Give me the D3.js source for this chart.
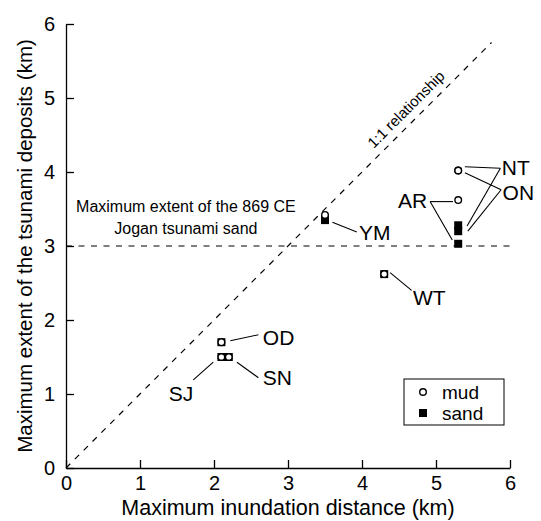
<!DOCTYPE html>
<html>
<head>
<meta charset="utf-8">
<script src="https://cdn.jsdelivr.net/npm/d3@7"></script>
<style>
  body { margin: 0; background: #fff; }
  svg { font-family: Arial, 'Liberation Sans', sans-serif; }
</style>
</head>
<body>
<svg id="chart" width="541" height="521"></svg>
<script>
// site data (km)
const sites = ['YM', 'WT', 'OD', 'SJ', 'SN', 'NT', 'ON', 'AR'];
const inundation = [3.5, 4.3, 2.1, 2.1, 2.2, 5.3, 5.3, 5.3];
const mudExtent = [3.42, 2.62, 1.7, 1.5, 1.5, 4.02, 4.02, 3.62];
const sandExtent = [3.35, 2.62, 1.7, 1.5, 1.5, 3.28, 3.2, 3.03];

const xTicks = [0, 1, 2, 3, 4, 5, 6];
const yTicks = [0, 1, 2, 3, 4, 5, 6];
const jogan = 3;
const oneToOneEnd = 5.75;

// label placement, data coords: [name, x, y, anchor, leader segments]
const labels = [
    ['YM', 3.96, 3.19, 'start', [[3.93, 3.19, 3.6, 3.32]]],
    ['WT', 4.69, 2.31, 'start', [[4.67, 2.4, 4.38, 2.64]]],
    ['OD', 2.66, 1.77, 'start', [[2.6, 1.8, 2.22, 1.72]]],
    ['SN', 2.66, 1.22, 'start', [[2.6, 1.22, 2.31, 1.43]]],
    ['SJ', 1.72, 1.01, 'end', [[1.72, 1.19, 1.99, 1.43]]],
    ['NT', 5.89, 4.06, 'start', [[5.87, 4.05, 5.39, 4.07], [5.87, 4.05, 5.42, 3.27]]],
    ['ON', 5.9, 3.72, 'start', [[5.88, 3.76, 5.39, 3.99], [5.88, 3.76, 5.43, 3.2]]],
    ['AR', 4.88, 3.61, 'end', [[4.92, 3.6, 5.23, 3.6], [4.92, 3.6, 5.22, 3.08]]],
];

const svg = d3.select('#chart');
const margin = { left: 66, right: 31, top: 24, bottom: 53 };
const width = 541 - margin.left - margin.right;
const height = 521 - margin.top - margin.bottom;

const x = d3.scaleLinear().domain([0, 6]).range([margin.left, margin.left + width]);
const y = d3.scaleLinear().domain([0, 6]).range([margin.top + height, margin.top]);

// axes, ticks pointing inward
const xAxis = svg.append('g')
    .attr('transform', `translate(0,${y(0)})`)
    .call(d3.axisBottom(x).tickValues(xTicks).tickFormat(d3.format('d'))
        .tickSizeInner(-8).tickSizeOuter(0).tickPadding(6));
const yAxis = svg.append('g')
    .attr('transform', `translate(${x(0)},0)`)
    .call(d3.axisLeft(y).tickValues(yTicks).tickFormat(d3.format('d'))
        .tickSizeInner(-8).tickSizeOuter(0).tickPadding(11));

[xAxis, yAxis].forEach((g) => {
    g.select('.domain').attr('stroke', '#000').attr('stroke-width', 1.3);
    g.selectAll('.tick line').attr('stroke', '#000').attr('stroke-width', 1.3);
    g.selectAll('.tick text').attr('fill', '#000').style('font-size', '20px')
        .style('font-family', "Arial, 'Liberation Sans', sans-serif");
});
xAxis.selectAll('.tick text').attr('dy', '0.8em');

svg.append('text')
    .attr('x', x(3))
    .attr('y', 515)
    .attr('text-anchor', 'middle')
    .style('font-size', '21.5px')
    .text('Maximum inundation distance (km)');

svg.append('text')
    .attr('transform', `translate(32,${y(3)}) rotate(-90)`)
    .attr('text-anchor', 'middle')
    .style('font-size', '20.5px')
    .text('Maximum extent of the tsunami deposits (km)');

// reference lines
svg.append('line')
    .attr('x1', x(0)).attr('y1', y(0))
    .attr('x2', x(oneToOneEnd)).attr('y2', y(oneToOneEnd))
    .attr('stroke', '#000').attr('stroke-width', 1.2)
    .attr('stroke-dasharray', '6,6.5');

svg.append('line')
    .attr('x1', x(0)).attr('y1', y(jogan))
    .attr('x2', x(6)).attr('y2', y(jogan))
    .attr('stroke', '#000').attr('stroke-width', 1.2)
    .attr('stroke-dasharray', '6,6.5');

svg.append('text')
    .attr('transform', `translate(${x(4.72)},${y(4.72)}) rotate(-45)`)
    .attr('y', -8)
    .attr('text-anchor', 'middle')
    .style('font-size', '15px')
    .text('1:1 relationship');

const jog = svg.append('g').style('font-size', '16px').attr('text-anchor', 'middle');
jog.append('text').attr('x', x(1.62)).attr('y', y(3.46)).text('Maximum extent of the 869 CE');
jog.append('text').attr('x', x(1.62)).attr('y', y(3.16)).text('Jogan tsunami sand');

// leader lines and site labels
const ann = svg.append('g');
labels.forEach(([name, lx, ly, anchor, segs]) => {
    segs.forEach(([x1, y1, x2, y2]) => {
        ann.append('line')
            .attr('x1', x(x1)).attr('y1', y(y1))
            .attr('x2', x(x2)).attr('y2', y(y2))
            .attr('stroke', '#000').attr('stroke-width', 1.1);
    });
    ann.append('text')
        .attr('x', x(lx)).attr('y', y(ly))
        .attr('dy', '0.36em')
        .attr('text-anchor', anchor)
        .style('font-size', '21px')
        .text(name);
});

// markers: sand squares under mud circles
const sq = 8;
svg.append('g')
    .selectAll('rect')
    .data(sites)
    .join('rect')
    .attr('x', (d, i) => x(inundation[i]) - sq / 2)
    .attr('y', (d, i) => y(sandExtent[i]) - sq / 2)
    .attr('width', sq)
    .attr('height', sq)
    .attr('fill', '#000');

svg.append('g')
    .selectAll('circle')
    .data(sites)
    .join('circle')
    .attr('cx', (d, i) => x(inundation[i]))
    .attr('cy', (d, i) => y(mudExtent[i]))
    .attr('r', 3.3)
    .attr('fill', '#fff')
    .attr('stroke', '#000')
    .attr('stroke-width', 1.4);

// legend
const legend = svg.append('g').attr('transform', 'translate(404,379)');
legend.append('rect')
    .attr('width', 100).attr('height', 46)
    .attr('fill', '#fff').attr('stroke', '#000').attr('stroke-width', 1);
legend.append('circle')
    .attr('cx', 19).attr('cy', 13).attr('r', 3.3)
    .attr('fill', '#fff').attr('stroke', '#000').attr('stroke-width', 1.4);
legend.append('rect')
    .attr('x', 15).attr('y', 30).attr('width', sq).attr('height', sq)
    .attr('fill', '#000');
legend.append('text').attr('x', 38).attr('y', 13).attr('dy', '0.36em')
    .style('font-size', '19px').text('mud');
legend.append('text').attr('x', 38).attr('y', 34).attr('dy', '0.36em')
    .style('font-size', '19px').text('sand');
</script>
</body>
</html>
